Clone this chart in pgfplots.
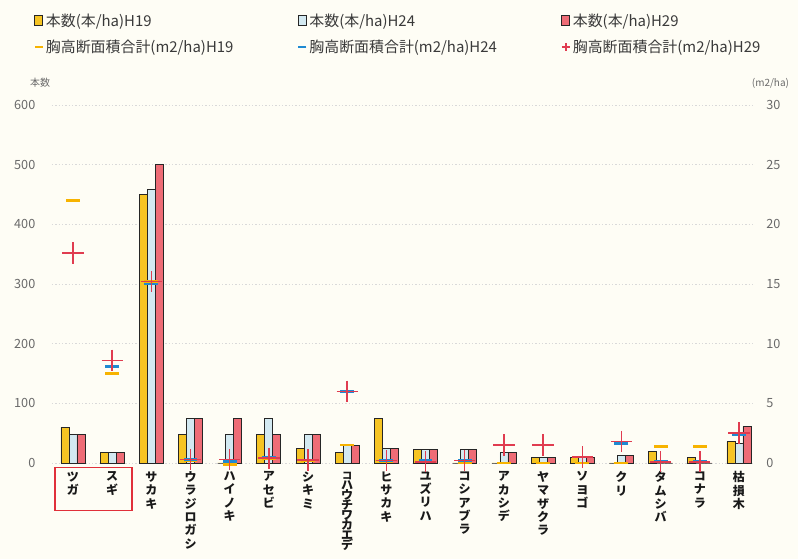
\documentclass[border=0pt]{standalone}
\usepackage{fontspec}
\setmainfont{Noto Sans CJK JP}
\usepackage{pgfplots}
\usepackage{pgfplotstable}
\pgfplotsset{compat=1.18}
\definecolor{bg}{HTML}{FEFDF5}
\definecolor{cY}{HTML}{F6C423}
\definecolor{cB}{HTML}{D3E9F1}
\definecolor{cR}{HTML}{EE6C76}
\definecolor{mY}{HTML}{F7B300}
\definecolor{mB}{HTML}{1F8AD2}
\definecolor{mR}{HTML}{E03C50}
\definecolor{tickc}{HTML}{6A6A6A}
\definecolor{legtext}{HTML}{3A3A3A}
\definecolor{boxc}{HTML}{E0303A}
\pgfplotsset{
  sqlegend/.style={legend image code/.code={\draw[##1,draw=black!85,line width=0.6pt] (0pt,-3.5pt) rectangle (6pt,4pt);}},
  mklegend/.style={legend image code/.code={\draw[##1,mark size=3pt] plot coordinates {(3pt,0pt)};}},
}
\pgfplotstableread{
x  a   b   c
0  60  48  48
1  18  18  18
2  450 458 500
3  48  75  75
4  0   48  75
5  48  75  48
6  24  48  48
7  17  30  30
8  75  24  24
9  23  23  23
10 0   23  23
11 0   17  17
12 10  10  10
13 10  10  10
14 0   12  12
15 19  0   0
16 10  0   0
17 36  33  61
}\bars
\pgfplotstableread{
x  a
0  22.0
1  7.5
2  15.2
3  0.2
4  -0.1
5  0.4
6  0.2
7  1.5
8  0.1
9  0.2
10 0.0
11 0.0
12 0.0
13 0.0
14 0.0
15 1.4
16 1.4
17 2.4
}\baA
\pgfplotstableread{
x  b
1  8.1
2  15.0
3  0.3
4  0.12
5  0.5
6  0.25
7  6.0
8  0.2
9  0.2
10 0.2
11 1.5
12 1.5
13 0.5
14 1.65
15 0.1
16 0.1
17 2.4
}\baB
\pgfplotstableread{
x  c
0  17.6
1  8.6
2  15.2
3  0.3
4  0.3
5  0.4
6  0.25
7  6.0
8  0.2
9  0.1
10 0.2
11 1.5
12 1.5
13 0.5
14 1.8
15 0.1
16 0.1
17 2.5
}\baC
\begin{document}
\begin{tikzpicture}[x=1pt,y=1pt]
\fill[bg] (-39,-72) rectangle (559.5,347.25);
\useasboundingbox (-39,-72) rectangle (559.5,347.25);
\begin{axis}[
  at={(0pt,0pt)}, anchor=south west,
  width=527.25pt, height=268.5pt, scale only axis,
  xmin=-0.536, xmax=17.41, ymin=0, ymax=600,
  axis x line*=bottom, axis y line*=left,
  axis line style={draw=none},
  major tick length=0pt,
  ytick={0,100,...,600},
  ymajorgrids, grid style={gray!30, dash pattern=on 1pt off 1.5pt},
  xtick={0,...,17},
  xticklabels={{ツ\\ガ},{ス\\ギ},{サ\\カ\\キ},{ウ\\ラ\\ジ\\ロ\\ガ\\シ},{ハ\\イ\\ノ\\キ},{ア\\セ\\ビ},{シ\\キ\\ミ},{\fontsize{7.6}{8.4}\selectfont コ\\[-2.4pt]ハ\\[-2.4pt]ウ\\[-2.4pt]チ\\[-2.4pt]ワ\\[-2.4pt]カ\\[-2.4pt]エ\\[-2.4pt]デ},{ヒ\\サ\\カ\\キ},{ユ\\ズ\\リ\\ハ},{コ\\シ\\ア\\ブ\\ラ},{ア\\カ\\シ\\デ},{ヤ\\マ\\ザ\\ク\\ラ},{ソ\\ヨ\\ゴ},{ク\\リ},{タ\\ム\\シ\\バ},{コ\\ナ\\ラ},{枯\\損\\木}},
  xticklabel style={align=center, anchor=north, yshift=-3pt, font=\fontsize{9}{10}\selectfont\bfseries, text=black!90},
  yticklabel style={font=\fontsize{9.5}{11}\selectfont, text=tickc, xshift=-9pt},
  /pgf/number format/assume math mode=true,
  ybar=0pt, bar width=6pt,
  clip=false,
]
\addplot[fill=cY, draw=black!85, line width=0.6pt] table[x=x,y=a]{\bars};
\addplot[fill=cB, draw=black!85, line width=0.6pt] table[x=x,y=b]{\bars};
\addplot[fill=cR, draw=black!85, line width=0.6pt] table[x=x,y=c]{\bars};
\node[font=\fontsize{7.5}{8}\selectfont, text=tickc] at (axis description cs:-0.017,1.061) {本数};
\draw[boxc, line width=1pt] (axis cs:-0.46,-7) rectangle (axis cs:1.51,-80);
\end{axis}
\begin{axis}[
  at={(0pt,0pt)}, anchor=south west,
  width=527.25pt, height=268.5pt, scale only axis,
  xmin=-0.536, xmax=17.41, ymin=0, ymax=30,
  axis x line=none, axis y line*=right,
  axis line style={draw=none},
  major tick length=0pt,
  ytick={0,5,...,30},
  yticklabel style={font=\fontsize{9.5}{11}\selectfont, text=tickc, xshift=5pt},
  /pgf/number format/assume math mode=true,
  clip=false,
  legend columns=3,
  legend cell align=left,
  legend style={at={(-0.031,1.27)}, anchor=north west, draw=none, fill=none,
    font=\fontsize{11.2}{12.5}\selectfont, text=legtext, row sep=4.5pt,
    /tikz/every even column/.append style={column sep=0pt}},
]
\addlegendimage{sqlegend, fill=cY}
\addlegendentry{\makebox[187pt][l]{本数(本/ha)H19}}
\addlegendimage{sqlegend, fill=cB}
\addlegendentry{\makebox[187pt][l]{本数(本/ha)H24}}
\addlegendimage{sqlegend, fill=cR}
\addlegendentry{本数(本/ha)H29}
\addplot[only marks, mark=-, mark size=5.2pt, line width=2pt, color=mY, mklegend] table[x=x,y=a]{\baA};
\addlegendentry{\makebox[187pt][l]{胸高断面積合計(m2/ha)H19}}
\addplot[only marks, mark=-, mark size=5.2pt, line width=2pt, color=mB, mklegend] table[x=x,y=b]{\baB};
\addlegendentry{\makebox[187pt][l]{胸高断面積合計(m2/ha)H24}}
\addplot[only marks, mark=+, mark size=8pt, line width=1.1pt, color=mR, mklegend] table[x=x,y=c]{\baC};
\addlegendentry{胸高断面積合計(m2/ha)H29}
\node[font=\fontsize{7.5}{8}\selectfont, text=tickc] at (axis description cs:1.022,1.061) {(m2/ha)};
\end{axis}
\end{tikzpicture}
\end{document}
